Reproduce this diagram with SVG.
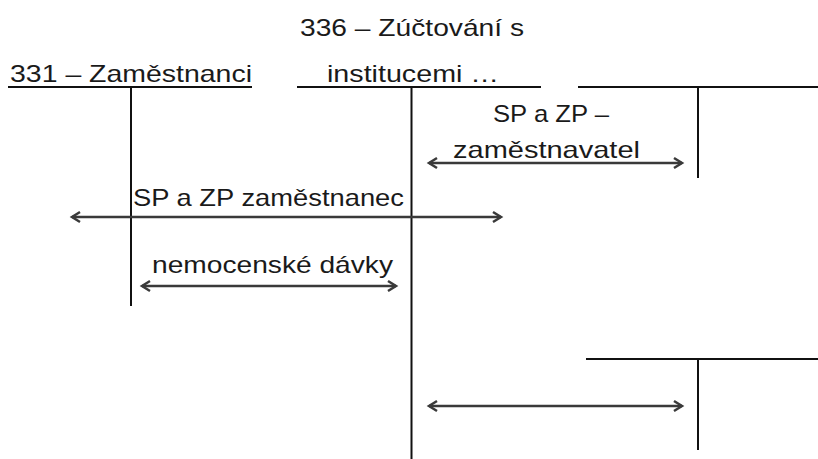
<svg xmlns="http://www.w3.org/2000/svg" width="818" height="459" viewBox="0 0 818 459">
<style>
text{font-family:"Liberation Sans","Noto Sans",sans-serif;font-size:24px;fill:#1a1a1a}
.t{stroke:#111;stroke-width:2;fill:none}
.a{stroke:#3a3a3a;stroke-width:2.5;fill:none;marker-start:url(#ah);marker-end:url(#ah)}
</style>
<defs>
<marker id="ah" markerUnits="userSpaceOnUse" markerWidth="14" markerHeight="14" viewBox="-10 -7 14 14" refX="0" refY="0" orient="auto-start-reverse">
<path d="M-8,-5 L0,0 L-8,5" fill="none" stroke="#3a3a3a" stroke-width="2.5" stroke-linejoin="miter"/>
</marker>
</defs>
<rect width="818" height="459" fill="#fff"/>
<g id="acc331">
<text x="10" y="82" textLength="242" lengthAdjust="spacingAndGlyphs">331 – Zaměstnanci</text>
<path class="t" d="M8,87 H252 M131,87 V306"/>
</g>
<g id="acc336">
<text x="300" y="36" textLength="224" lengthAdjust="spacingAndGlyphs">336 – Zúčtování s</text>
<text x="327" y="82" textLength="172" lengthAdjust="spacingAndGlyphs">institucemi …</text>
<path class="t" d="M297,87 H541 M411.5,87 V459"/>
</g>
<g id="acc3">
<path class="t" d="M578,87 H818 M698,87 V178"/>
</g>
<g id="acc4">
<path class="t" d="M586,359 H818 M698,359 V450"/>
</g>
<g id="connectors">
<path class="a" d="M429,163 H682"/>
<path class="a" d="M72,217 H501"/>
<path class="a" d="M142,286 H396"/>
<path class="a" d="M429,406 H682"/>
</g>
<g id="labels">
<text x="493" y="122" textLength="116" lengthAdjust="spacingAndGlyphs">SP a ZP –</text>
<text x="453" y="158" textLength="187" lengthAdjust="spacingAndGlyphs">zaměstnavatel</text>
<text x="133" y="206" textLength="271" lengthAdjust="spacingAndGlyphs">SP  a ZP zaměstnanec</text>
<text x="152" y="273" textLength="241" lengthAdjust="spacingAndGlyphs">nemocenské dávky</text>
</g>
</svg>
